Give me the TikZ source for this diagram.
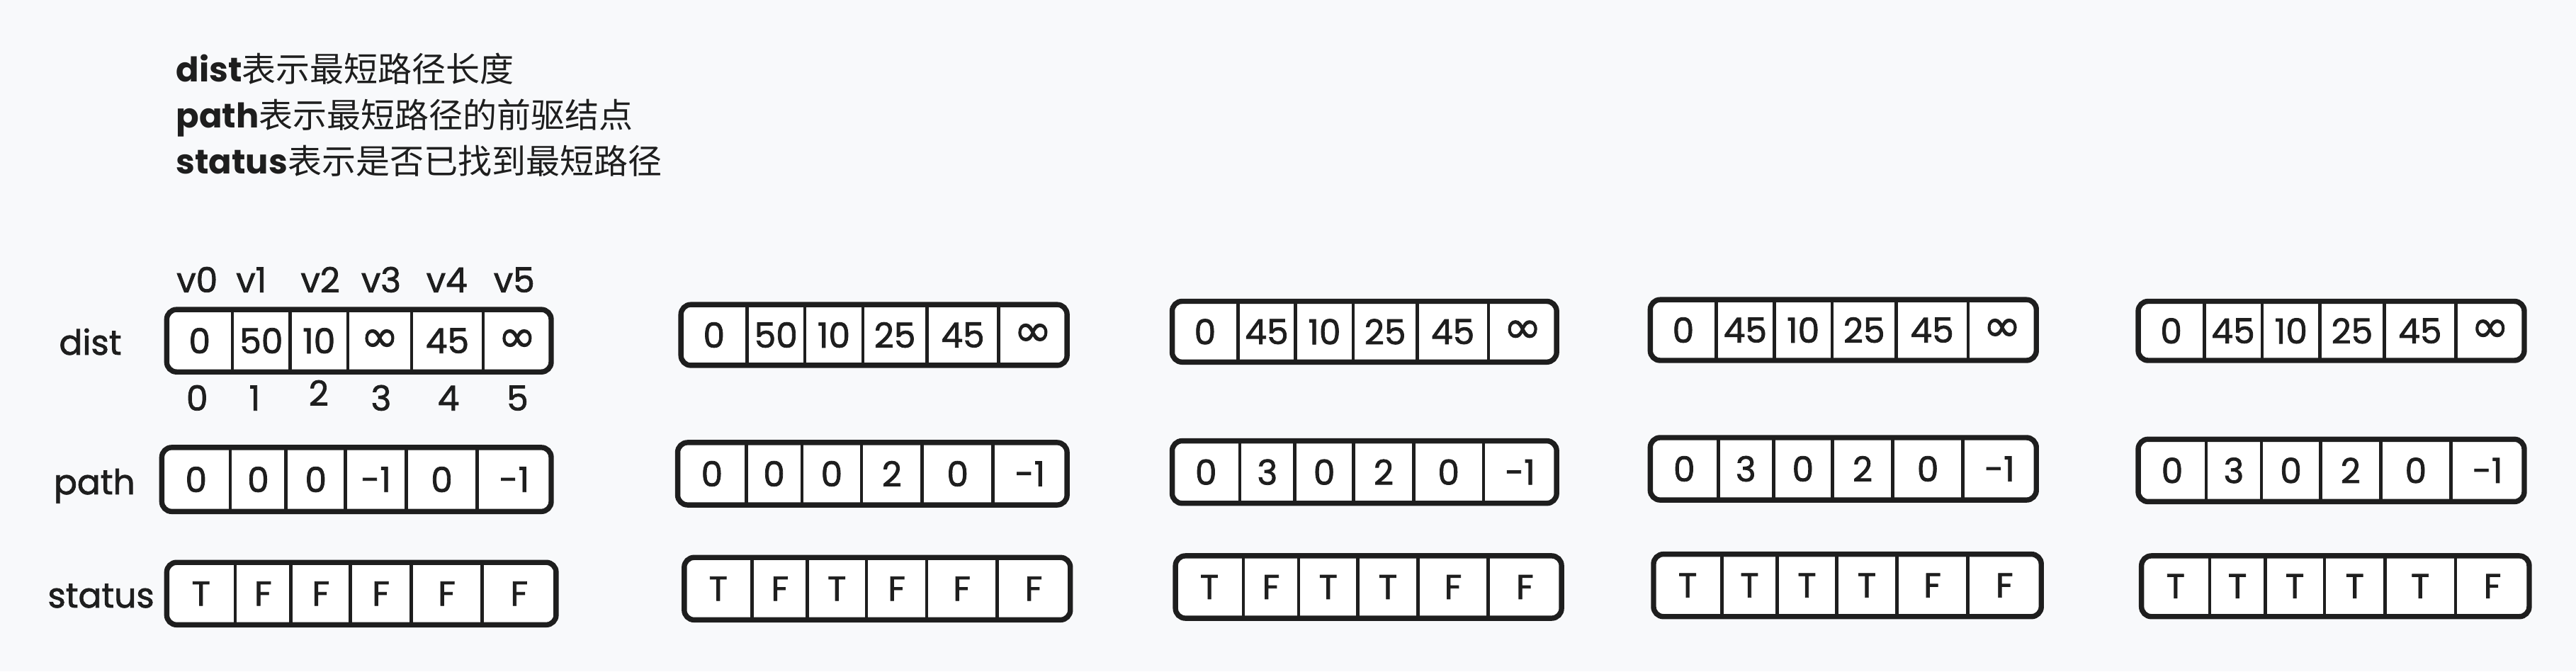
\documentclass[tikz,border=0pt]{standalone}
\usepackage{fontspec}
\setmainfont{Poppins}
\newfontfamily\heavy{Poppins}[FakeBold=1.6]
\newfontfamily\cjk{Noto Sans CJK SC}
\newfontfamily\symf{DejaVu Sans}[FakeBold=1.4]
\newcommand\infy{{\symf\fontsize{28}{30}\selectfont ∞}}
\definecolor{bg}{HTML}{F8F9FB}
\definecolor{ink}{HTML}{1E1E1E}
\def\frA{{0,.171,.321,.471,.637,.823,1}}
\def\frB{{0,.176,.319,.472,.628,.81,1}}
\tikzset{
  rowbox/.style={draw=ink, fill=white, line width=3.2pt, rounded corners=6pt, inner sep=0pt, outer sep=0pt},
  divider/.style={draw=ink, line width=2pt},
  celltext/.style={text=ink, font=\heavy\fontsize{21}{25}\selectfont, inner sep=0pt},
  lbl/.style={text=ink, font=\heavy\fontsize{21}{25}\selectfont, inner sep=0pt, anchor=base},
  titletext/.style={text=ink, font=\fontsize{20.7}{24}\selectfont, inner sep=0pt, anchor=base west}
}
\newcommand\cellrow[7]{%
  \node[rowbox, minimum width={(#4-#2-3)*1pt}, minimum height={(#5-#3-3)*1pt}] (#1) at ({(#2+#4)/2},{(#3+#5)/2}) {};
  \foreach \k in {1,...,5}{
    \pgfmathsetmacro\xx{#2+1.5+(#4-#2-3)*#6[\k]}
    \draw[divider] (\xx,#3+1.5) -- (\xx,#5-1.5);
  }
  \foreach \cont [count=\k from 0] in {#7}{
    \pgfmathsetmacro\xx{#2+1.5+(#4-#2-3)*(#6[\k]+#6[\k+1])/2}
    \node[celltext] (#1-\k) at (\xx,{(#3+#5)/2}) {\cont};
  }
}
\begin{document}
\begin{tikzpicture}[x=1pt,y=-1pt]
\useasboundingbox[fill=bg] (0,0) rectangle (1568,409);
% legend
\node[titletext] (t1) at (107,50) {{\bfseries dist}{\cjk 表示最短路径长度}};
\node[titletext] (t2) at (107,78) {{\bfseries path}{\cjk 表示最短路径的前驱结点}};
\node[titletext] (t3) at (107,106) {{\bfseries status}{\cjk 表示是否已找到最短路径}};
% row labels
\node[lbl] (ldist) at (55,216) {dist};
\node[lbl] (lpath) at (57.5,301) {path};
\node[lbl] (lstatus) at (61.5,370) {status};
% vertex labels
\foreach \v/\x in {0/120,1/153,2/195,3/232,4/272,5/313}
  \node[lbl] (v\v) at (\x,178) {v\v};
\foreach \v/\x/\y in {0/120/250,1/155/250,2/194/247,3/232/250,4/273/250,5/315/250}
  \node[lbl] (i\v) at (\x,\y) {\v};
% column 1
\cellrow{d1}{100}{187}{337}{228}{\frA}{0,50,10,\infy,45,\infy}
\cellrow{p1}{97}{271}{337}{313}{\frB}{0,0,0,-1,0,-1}
\cellrow{s1}{100}{341}{340}{382}{\frB}{T,F,F,F,F,F}
% column 2
\cellrow{d2}{413}{184}{651}{224}{\frA}{0,50,10,25,45,\infy}
\cellrow{p2}{411}{268}{651}{309}{\frB}{0,0,0,2,0,-1}
\cellrow{s2}{415}{338}{653}{379}{\frB}{T,F,T,F,F,F}
% column 3
\cellrow{d3}{712}{182}{949}{222}{\frA}{0,45,10,25,45,\infy}
\cellrow{p3}{712}{267}{949}{308}{\frB}{0,3,0,2,0,-1}
\cellrow{s3}{714}{337}{952}{378}{\frB}{T,F,T,T,F,F}
% column 4
\cellrow{d4}{1003}{181}{1241}{221}{\frA}{0,45,10,25,45,\infy}
\cellrow{p4}{1003}{265}{1241}{306}{\frB}{0,3,0,2,0,-1}
\cellrow{s4}{1005}{336}{1244}{377}{\frB}{T,T,T,T,F,F}
% column 5
\cellrow{d5}{1300}{182}{1538}{221}{\frA}{0,45,10,25,45,\infy}
\cellrow{p5}{1300}{266}{1538}{307}{\frB}{0,3,0,2,0,-1}
\cellrow{s5}{1302}{337}{1541}{377}{\frB}{T,T,T,T,T,F}
\end{tikzpicture}
\end{document}
